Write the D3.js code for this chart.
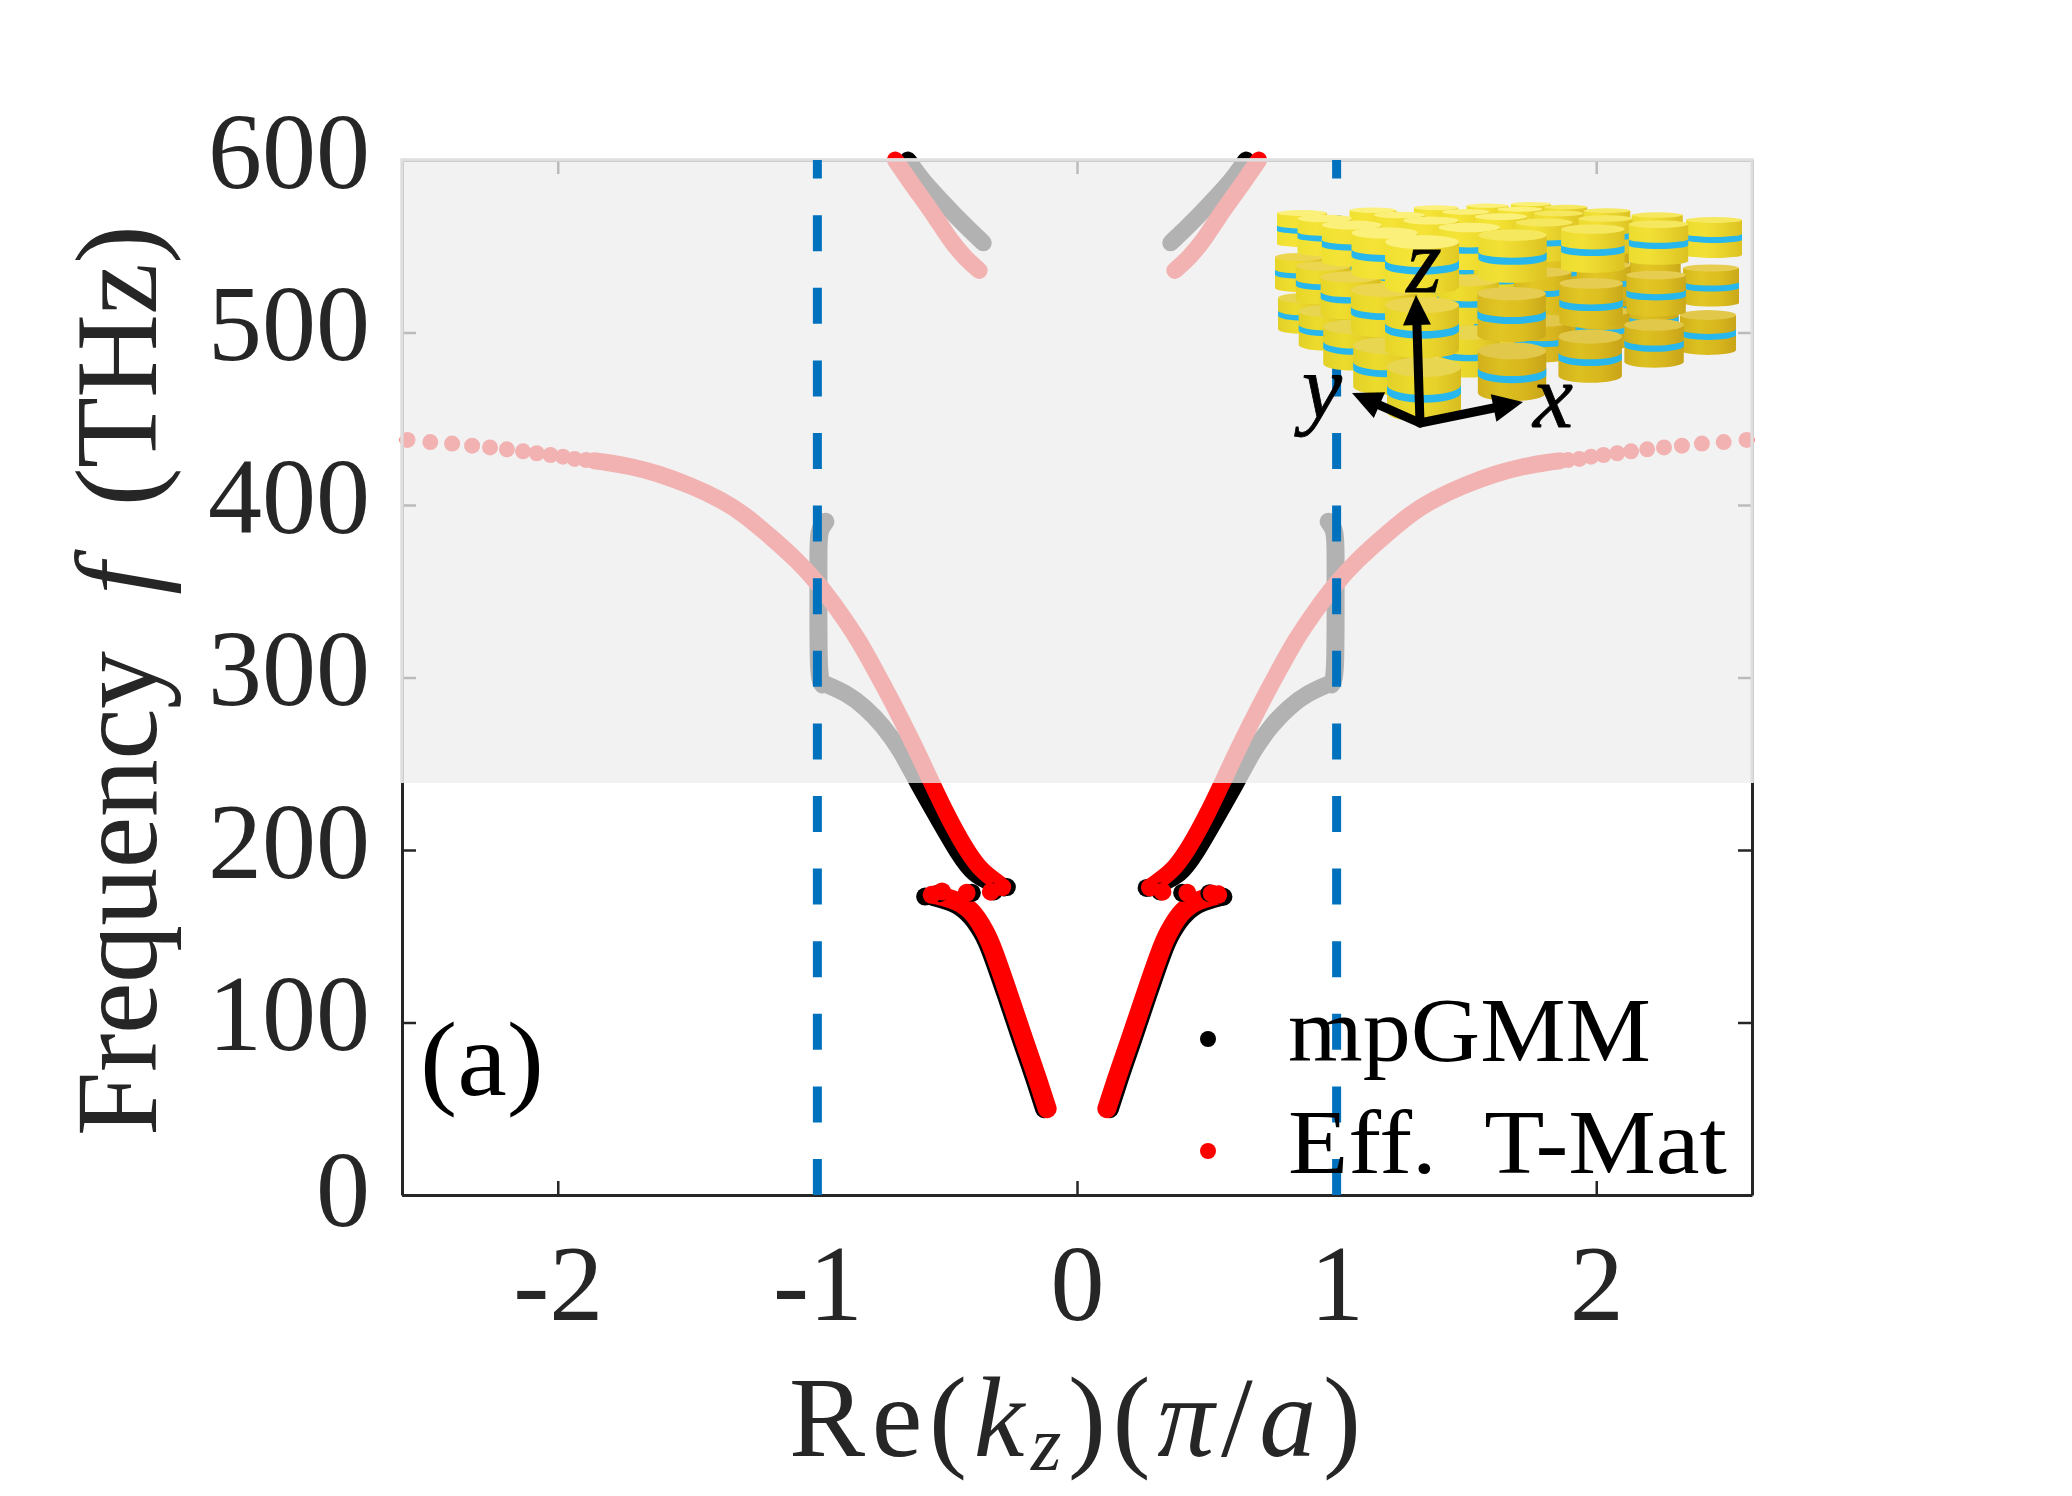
<!DOCTYPE html>
<html><head><meta charset="utf-8">
<script src="https://cdn.jsdelivr.net/npm/d3@7"></script>
<style>html,body{margin:0;padding:0;background:#fff}svg{display:block}text{font-family:"Liberation Serif",serif}</style>
</head><body><svg id="c" width="2072" height="1496"></svg>
<script>
// ---- data (right half branches are drawn for +k and -k) ----
const xTicks=[-2,-1,0,1,2], xTickLabels=["-2","-1","0","1","2"];
const yTicks=[0,100,200,300,400,500,600];
const bzEdges=[-1,1];
const redLowK=[.115,.16,.20,.26,.326,.355,.384,.41,.435,.465,.493,.544];
const redLowF=[50,71,88,115,144,153,160.4,165,168,170.5,172,174];
const blackLowK=[.125,.17,.21,.27,.336,.365,.395,.422,.447,.477,.505,.553];
const blackLowF=[50,71,88,115,144,152.5,159.5,164,167,169.5,171,173];
const redUpK=[.281,.32,.378,.435,.5,.563,.625,.708,.777,.838,.914,.997,1.079,1.175,1.285,1.369,1.492,1.616,1.712,1.822,1.86];
const redUpF=[178.3,182.6,189.4,202,220,240,260,285,304,321,338,354.6,368,381,395,403,411.6,418.4,422.2,425,425.6];
const blackUpK=[.281,.33,.397,.454,.525,.618,.68,.749,.818,.886,.975];
const blackUpF=[178,181,185.5,197,215.6,240,258,272.5,283,290.8,296.5];
const blackVertK=[.98,.996,.996,.996,.996,.969];
const blackVertF=[296,300,340,370,385.5,390.3];
const redTopK=[.377,.43,.489,.545,.601,.65,.70];
const redTopF=[536,543,553.6,567,578.7,589,600];
const blackTopK=[.361,.441,.537,.60,.651];
const blackTopF=[552,563.4,578.7,589,600];
const tailK=[1.891,1.935,1.98,2.028,2.081,2.134,2.196,2.261,2.33,2.407,2.491,2.579];
const tailF=[426.1,426.7,428,429,430,431.1,432.3,433.4,434.4,435.6,436.5,437.7];
const midBlackK=[.268,.32,.405,.51,.564,-.585,-.53,-.405,-.32,-.27];
const midBlackF=[178,176,175.2,175,172.9,173,175,175.2,176,178.5];
const midRedK=[.281,.329,.425,.519,.544,-.56,-.52,-.425,-.332,-.288];
const midRedF=[178.3,175.8,175.2,174.8,174,174,176,175.2,175.8,178.5];
const legendLabels=["mpGMM","Eff.  T-Mat"];
const layerNames=[0,1,2];
const gridU=[0,1,2,3,4], gridV=[0,1,2,3,4];
const gridFrac=[0,.31,.585,.81,1];

const svg=d3.select("#c");
const x=d3.scaleLinear().domain([-2.6,2.6]).range([402,1752]);
const y=d3.scaleLinear().domain([0,600]).range([1195,160]);
const ink="#262626";
const line=d3.line().x(d=>x(d[0])).y(d=>y(d[1])).curve(d3.curveBasis);
const zip=(a,b,s=1)=>a.map((v,i)=>[s*v,b[i]]);
const both=[-1,1];

// axes (with box)
const gA=svg.append("g");
function sty(g){g.select(".domain").attr("stroke",ink).attr("stroke-width",3);g.selectAll("line").attr("stroke",ink).attr("stroke-width",2.5);}
const ax=gA.append("g").attr("transform",`translate(0,${y(0)})`).call(d3.axisBottom(x).tickValues(xTicks).tickSize(-14).tickSizeOuter(0).tickFormat((d,i)=>xTickLabels[i]));
const axT=gA.append("g").attr("transform",`translate(0,${y(600)})`).call(d3.axisTop(x).tickValues(xTicks).tickSize(-14).tickSizeOuter(0).tickFormat(""));
const ay=gA.append("g").attr("transform",`translate(${x(-2.6)},0)`).call(d3.axisLeft(y).tickValues(yTicks).tickSize(-14).tickSizeOuter(0));
const ayR=gA.append("g").attr("transform",`translate(${x(2.6)},0)`).call(d3.axisRight(y).tickValues(yTicks).tickSize(-14).tickSizeOuter(0).tickFormat(""));
[ax,axT,ay,ayR].forEach(sty);
ax.selectAll("text").attr("fill",ink).attr("font-size",108).attr("font-family","Liberation Serif").attr("dy",0).attr("y",125);
ay.selectAll("text").attr("fill",ink).attr("font-size",108).attr("font-family","Liberation Serif").attr("dy",0).attr("x",-32).attr("y",d=>d===0?30:27);

// series
const gB=svg.append("g").attr("fill","none").attr("stroke-linecap","round").attr("stroke-linejoin","round");
function branch(k,f,color,w){both.forEach(s=>gB.append("path").attr("d",line(zip(k,f,s))).attr("stroke",color).attr("stroke-width",w));}
branch(blackLowK,blackLowF,"#000",19);
branch(blackUpK,blackUpF,"#000",17);
branch(blackVertK,blackVertF,"#000",18);
branch(blackTopK,blackTopF,"#000",17);
svg.append("g").selectAll("circle").data(zip(midBlackK,midBlackF)).join("circle").attr("cx",d=>x(d[0])).attr("cy",d=>y(d[1])).attr("r",9).attr("fill","#000");
branch(redLowK,redLowF,"#f00",19);
branch(redUpK,redUpF,"#f00",17);
branch(redTopK,redTopF,"#f00",17);
svg.append("g").selectAll("circle").data(zip(midRedK,midRedF)).join("circle").attr("cx",d=>x(d[0])).attr("cy",d=>y(d[1])).attr("r",9).attr("fill","#f00");
both.forEach(s=>svg.append("g").selectAll("circle").data(zip(tailK,tailF,s)).join("circle").attr("cx",d=>x(d[0])).attr("cy",d=>y(d[1])).attr("r",8).attr("fill","#f00"));

// translucent overlay
const oy0=y(600)-2, oy1=783;
svg.append("rect").attr("x",x(-2.6)-2).attr("width",x(2.6)-x(-2.6)+4).attr("y",oy0).attr("height",oy1-oy0).attr("fill","rgb(238,238,238)").attr("fill-opacity",.75);
svg.append("path").attr("d",`M${x(-2.6)},${oy1}V${y(600)}H${x(2.6)}V${oy1}`).attr("fill","none").attr("stroke","#dedede").attr("stroke-width",3);

// Brillouin-zone edges
svg.append("g").selectAll("line").data(bzEdges).join("line").attr("x1",d=>x(d)).attr("x2",d=>x(d)).attr("y1",y(0)).attr("y2",y(600)).attr("stroke","#0072BD").attr("stroke-width",9).attr("stroke-dasharray","36 36.6");

// inset: lattice of disks
const defs=svg.append("defs");
const sides=[[["#e2d028","#ecdb2c","#e6d02a","#d8bc20"],["#d2b01c","#dcc020","#d8b61e","#c8a418"]],
             [["#e6d428","#efdd2e","#e8d22a","#d8bc20"],["#d6b81e","#e2c624","#dcbe20","#caa81a"]],
             [["#efe030","#f5e437","#eedb2e","#e0c824"],["#ecdc30","#f2e035","#e8d22c","#dcc222"]]];
layerNames.forEach(w=>[0,1].forEach(t=>{const g=defs.append("linearGradient").attr("id",`side${w}${t}`);sides[w][t].forEach((c,i)=>g.append("stop").attr("offset",i/3).attr("stop-color",c));}));
const topFill=[["#e8d650","#e2c84a"],["#ecd650","#e6cc50"],["#fbf07a","#f6e85e"]];
const corners={F:[[1424,367],[1422,305],[1422,242]],L:[[1303,298],[1300,257],[1302,213]],R:[[1708,315],[1711,268],[1714,220]],B:[[1531,277],[1531,240],[1531,204]]};
const rxC={F:37,L:25,R:28,B:20}, hC={F:45,L:31,R:35,B:24};
const ryC={F:[10,8,7],L:[5,4,3],R:[5,3.5,3],B:[4,3,2]};
const bil=(a,b,c,d,u,v)=>a*(1-u)*(1-v)+b*u*(1-v)+c*(1-u)*v+d*u*v;
const disks=[];
layerNames.forEach(w=>gridU.forEach(u=>gridV.forEach(v=>{
  const uu=gridFrac[u],vv=gridFrac[v];
  const p0=corners.F[w],p1=corners.R[w],p2=corners.L[w],p3=corners.B[w];
  disks.push({w,order:u+v,tone:u>v?1:0,cx:bil(p0[0],p1[0],p2[0],p3[0],uu,vv),cy:bil(p0[1],p1[1],p2[1],p3[1],uu,vv),
    rx:bil(rxC.F,rxC.R,rxC.L,rxC.B,uu,vv),h:bil(hC.F,hC.R,hC.L,hC.B,uu,vv),ry:bil(ryC.F[w],ryC.R[w],ryC.L[w],ryC.B[w],uu,vv)});
})));
disks.sort((a,b)=>b.order-a.order||a.w-b.w);
const gI=svg.append("g");
disks.forEach(d=>{
  const g=gI.append("g").attr("transform",`translate(${d.cx},${d.cy})`);
  const {rx,ry,h}=d;
  g.append("path").attr("d",`M${-rx},0V${h}A${rx},${ry} 0 0 0 ${rx},${h}V0Z`).attr("fill",`url(#side${d.w}${d.tone})`);
  const b0=h*.40,b1=h*.57;
  g.append("path").attr("d",`M${-rx},${b0}A${rx},${ry} 0 0 0 ${rx},${b0}V${b1}A${rx},${ry} 0 0 1 ${-rx},${b1}Z`).attr("fill","#27b7ec");
  g.append("ellipse").attr("rx",rx).attr("ry",ry).attr("fill",topFill[d.w][d.tone]);
});

// inset axes
const arrows=[[1420,423,1416,295],[1420,423,1523,402],[1420,423,1352,393]];
arrows.forEach(a=>{
  const [x0,y0,x1,y1]=a,ang=Math.atan2(y1-y0,x1-x0),L=30,W=14;
  const bx=x1-L*Math.cos(ang),by=y1-L*Math.sin(ang),nx=-Math.sin(ang),ny=Math.cos(ang);
  svg.append("line").attr("x1",x0).attr("y1",y0).attr("x2",bx).attr("y2",by).attr("stroke","#000").attr("stroke-width",9).attr("stroke-linecap","round");
  svg.append("path").attr("d",`M${x1},${y1}L${bx+nx*W},${by+ny*W}L${bx-nx*W},${by-ny*W}Z`).attr("fill","#000");
});
[["z",1424,292],["x",1553,427],["y",1322,418]].forEach(t=>svg.append("text").text(t[0]).attr("x",t[1]).attr("y",t[2]).attr("text-anchor","middle").attr("font-style","italic").attr("font-size",90).attr("fill","#000").attr("stroke","#000").attr("stroke-width",.8));

// legend
const legY=[1039,1151],legB=[1061,1173],legL=[361,437];
legendLabels.forEach((t,i)=>{
  svg.append("circle").attr("cx",1208).attr("cy",legY[i]).attr("r",8).attr("fill",i?"#f00":"#000");
  svg.append("text").style("white-space","pre").text(t).attr("x",1288).attr("y",legB[i]).attr("font-size",92).attr("fill","#000").attr("textLength",legL[i]+2).attr("lengthAdjust","spacingAndGlyphs");
});
svg.append("text").text("(a)").attr("x",420).attr("y",1095).attr("font-size",106).attr("fill","#000").attr("textLength",124).attr("lengthAdjust","spacingAndGlyphs");

// axis titles
const yl=svg.append("text").attr("transform","translate(156,1136) rotate(-90)").attr("font-size",116).attr("fill",ink).attr("textLength",911).style("white-space","pre");
yl.append("tspan").text("Frequency  ");
yl.append("tspan").text("f").attr("font-style","italic");
yl.append("tspan").text("  (THz)");
const xl=svg.append("text").attr("x",789).attr("y",1456).attr("font-size",114).attr("fill",ink).attr("textLength",572);
xl.append("tspan").text("Re(");
xl.append("tspan").text("k").attr("font-style","italic");
xl.append("tspan").text("z").attr("font-style","italic").attr("font-size",78).attr("dy",14);
xl.append("tspan").text(")(").attr("dy",-14);
xl.append("tspan").text("π").attr("font-style","italic");
xl.append("tspan").text("/");
xl.append("tspan").text("a").attr("font-style","italic");
xl.append("tspan").text(")");
</script></body></html>
